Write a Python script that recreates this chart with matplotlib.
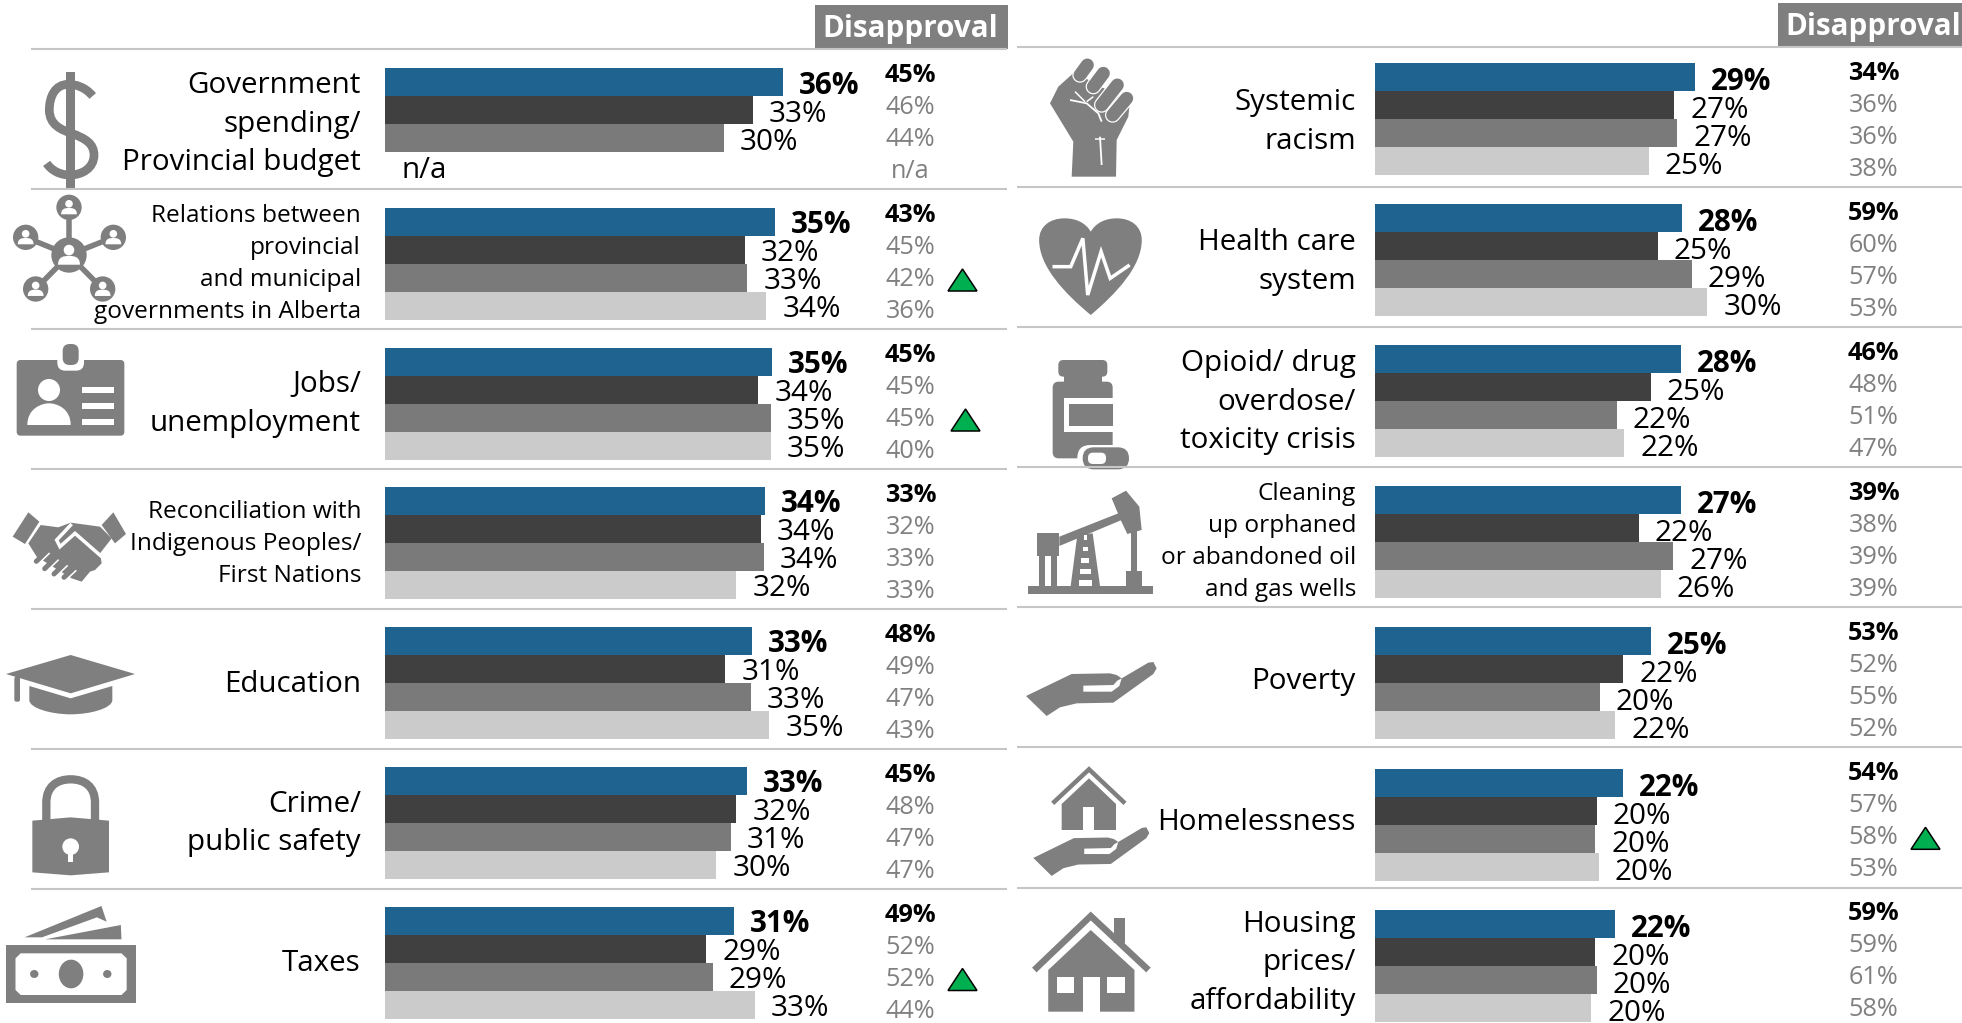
import matplotlib
matplotlib.use('Agg')
import matplotlib.pyplot as plt
from matplotlib.patches import Polygon, Ellipse, FancyBboxPatch, PathPatch, Rectangle
from matplotlib.path import Path

plt.rcParams['font.family'] = ['Open Sans', 'DejaVu Sans']

W, H = 1962, 1023
PX_PER_PCT = 11.08

# data, four bars per topic, top to bottom
left_topics = [
    ['Government', 'spending/', 'Provincial budget'],
    ['Relations between', 'provincial', 'and municipal', 'governments in Alberta'],
    ['Jobs/', 'unemployment'],
    ['Reconciliation with', 'Indigenous Peoples/', 'First Nations'],
    ['Education'],
    ['Crime/', 'public safety'],
    ['Taxes'],
]
left_bars = [
    [35.9, 33.2, 30.6, None],
    [35.2, 32.5, 32.7, 34.4],
    [34.9, 33.7, 34.8, 34.8],
    [34.3, 33.9, 34.2, 31.7],
    [33.1, 30.7, 33.0, 34.7],
    [32.7, 31.7, 31.2, 29.9],
    [31.5, 29.0, 29.6, 33.4],
]
left_labels = [
    ['36%', '33%', '30%', 'n/a'],
    ['35%', '32%', '33%', '34%'],
    ['35%', '34%', '35%', '35%'],
    ['34%', '34%', '34%', '32%'],
    ['33%', '31%', '33%', '35%'],
    ['33%', '32%', '31%', '30%'],
    ['31%', '29%', '29%', '33%'],
]
left_disapproval = [
    ['45%', '46%', '44%', 'n/a'],
    ['43%', '45%', '42%', '36%'],
    ['45%', '45%', '45%', '40%'],
    ['33%', '32%', '33%', '33%'],
    ['48%', '49%', '47%', '43%'],
    ['45%', '48%', '47%', '47%'],
    ['49%', '52%', '52%', '44%'],
]
right_topics = [
    ['Systemic', 'racism'],
    ['Health care', 'system'],
    ['Opioid/ drug', 'overdose/', 'toxicity crisis'],
    ['Cleaning', 'up orphaned', 'or abandoned oil', 'and gas wells'],
    ['Poverty'],
    ['Homelessness'],
    ['Housing', 'prices/', 'affordability'],
]
right_bars = [
    [28.9, 27.0, 27.3, 24.7],
    [27.7, 25.5, 28.6, 30.0],
    [27.6, 24.9, 21.8, 22.5],
    [27.6, 23.8, 26.9, 25.8],
    [24.9, 22.4, 20.3, 21.7],
    [22.4, 20.0, 19.9, 20.2],
    [21.7, 19.9, 20.0, 19.5],
]
right_labels = [
    ['29%', '27%', '27%', '25%'],
    ['28%', '25%', '29%', '30%'],
    ['28%', '25%', '22%', '22%'],
    ['27%', '22%', '27%', '26%'],
    ['25%', '22%', '20%', '22%'],
    ['22%', '20%', '20%', '20%'],
    ['22%', '20%', '20%', '20%'],
]
right_disapproval = [
    ['34%', '36%', '36%', '38%'],
    ['59%', '60%', '57%', '53%'],
    ['46%', '48%', '51%', '47%'],
    ['39%', '38%', '39%', '39%'],
    ['53%', '52%', '55%', '52%'],
    ['54%', '57%', '58%', '53%'],
    ['59%', '59%', '61%', '58%'],
]
# (topic row, wave) of the green up arrows
left_arrows = [(1, 2), (2, 2), (6, 2)]
right_arrows = [(5, 2)]

bar_colors = ['#1f6391', '#404040', '#7a7a7a', '#cbcbcb']
GR = '#7f7f7f'
SMALL = 17.6
BIG = 21.3

fig = plt.figure(figsize=(W / 100, H / 100), dpi=100, facecolor='white')
base = fig.add_axes([0, 0, 1, 1])
base.set_xlim(0, W)
base.set_ylim(H, 0)
base.axis('off')


# icon helpers, points are given in crop coordinates and mapped by ic=(ox, oy, sx, sy)
def tf(pts, ic):
    return [(ic[0] + x / ic[2], ic[1] + y / ic[3]) for x, y in pts]


def poly(pts, ic, color=GR):
    base.add_patch(Polygon(tf(pts, ic), closed=True, fc=color, ec='none'))


def rect(x0, y0, x1, y1, ic, color=GR, r=0):
    (a, b), (c, d) = tf([(x0, y0), (x1, y1)], ic)
    if r:
        base.add_patch(FancyBboxPatch((a, b), c - a, d - b, boxstyle=f'round,pad=0,rounding_size={r}',
                                      fc=color, ec='none'))
    else:
        base.add_patch(Rectangle((a, b), c - a, d - b, fc=color, ec='none'))


def circ(x, y, r, ic, color=GR, r2=None):
    (a, b), = tf([(x, y)], ic)
    base.add_patch(Ellipse((a, b), 2 * r / ic[2], 2 * (r2 or r) / ic[3], fc=color, ec='none'))


def stroke(pts, ic, width, color=GR, cap='butt'):
    path = Path(tf(pts, ic))
    base.add_patch(PathPatch(path, fc='none', ec=color, lw=width * 0.72, capstyle=cap, joinstyle='miter'))


def bezier(start, segs, ic, width=None, color=GR):
    verts = [start]
    codes = [Path.MOVETO]
    for s in segs:
        verts += s
        codes += [Path.LINETO] if len(s) == 1 else [Path.CURVE4] * 3
    path = Path(tf(verts, ic), codes)
    if width:
        base.add_patch(PathPatch(path, fc='none', ec=color, lw=width * 0.72, capstyle='butt'))
    else:
        base.add_patch(PathPatch(path, fc=color, ec='none'))


def person(cx, cy, r, ic):
    circ(cx, cy - 0.28 * r, 0.3 * r, ic, 'white')
    bezier((cx - 0.62 * r, cy + 0.55 * r),
           [[(cx - 0.62 * r, cy + 0.1 * r), (cx - 0.3 * r, cy + 0.05 * r), (cx, cy + 0.05 * r)],
            [(cx + 0.3 * r, cy + 0.05 * r), (cx + 0.62 * r, cy + 0.1 * r), (cx + 0.62 * r, cy + 0.55 * r)]], ic,
           color='white')


def hand(ic):
    poly([(18, 138), (155, 72), (270, 70), (290, 75), (305, 85), (385, 38), (400, 36), (410, 55), (400, 72),
          (280, 158), (170, 160), (120, 172), (80, 198)], ic)
    poly([(190, 107), (280, 105), (292, 92), (305, 85), (298, 108), (275, 125), (190, 125)], ic, 'white')


Z2 = (1010, 0, 1.647, 3)
Z3 = (0, 680, 1.5475, 3)
Z4 = (1010, 680, 1.647, 3)
Z5 = (0, 50, 3, 3)
Z6 = (0, 330, 3, 3)
Z7 = (0, 610, 3, 3)
Z8 = (1020, 330, 3, 3)
Z9 = (1030, 50, 3, 3)
Z10 = (1020, 650, 3, 3)

# dollar
rect(198, 67, 224, 418, Z5)
bezier((278, 138), [[(255, 110), (225, 103), (205, 103)], [(165, 103), (148, 140), (148, 180)],
                    [(148, 225), (185, 240), (215, 250)], [(255, 265), (282, 280), (282, 315)],
                    [(282, 355), (245, 375), (210, 375)], [(180, 375), (155, 362), (140, 340)]], Z5, width=8.7)

# network
nodes = [(207, 472), (77, 562), (340, 562), (107, 717), (308, 717)]
for n in nodes:
    stroke([(207, 615), n], Z5, 5.5)
circ(207, 615, 53, Z5)
person(207, 615, 53, Z5)
for n in nodes:
    circ(n[0], n[1], 38, Z5)
    person(n[0], n[1], 38, Z5)

# badge
rect(50, 90, 373, 317, Z6, r=4)
rect(172, 60, 252, 122, Z6, 'white', r=8)
rect(188, 42, 236, 105, Z6, r=7)
circ(147, 180, 33, Z6, 'white')
bezier((82, 285), [[(82, 235), (125, 220), (147, 220)], [(170, 220), (212, 235), (212, 285)]], Z6, color='white')
for y0, y1 in [(172, 188), (220, 237), (268, 285)]:
    rect(245, y0, 341, y1, Z6, 'white')

# handshake
poly([(85, 547), (118, 575), (75, 642), (38, 620)], Z6)
poly([(340, 547), (378, 612), (345, 640), (305, 585)], Z6)
poly([(122, 585), (175, 592), (212, 578), (300, 590), (335, 625), (300, 670), (305, 700), (285, 720),
      (270, 725), (245, 755), (215, 745), (110, 680), (85, 640)], Z6)
stroke([(215, 582), (170, 630), (180, 650), (225, 610), (305, 680)], Z6, 3.5, 'white')
for a, b in [((115, 700), (148, 668)), ((140, 722), (175, 688)), ((168, 738), (202, 705)), ((198, 748), (228, 720))]:
    stroke([a, b], Z6, 2.5, 'white')
    stroke([(a[0] - 6, a[1] - 6), (b[0] - 6, b[1] - 6)], Z6, 5, GR, cap='round')

# graduation cap
bezier((88, 228), [[(212, 265)], [(337, 228)], [(337, 270)], [(337, 295), (270, 313), (212, 313)],
                   [(155, 313), (88, 295), (88, 270)]], Z7)
poly([(18, 192), (212, 135), (405, 192), (212, 250)], Z7)
rect(43, 200, 60, 275, Z7, r=2)

# lock
bezier((139, 632), [[(139, 578)], [(139, 530), (170, 508), (212, 508)], [(254, 508), (285, 530), (285, 578)],
                    [(285, 632)]], Z7, width=8.3)
poly([(97, 632), (212, 622), (327, 632), (327, 787), (212, 796), (97, 787)], Z7)
circ(212, 710, 25, Z7, 'white')
rect(204, 715, 220, 755, Z7, 'white')

# banknotes
poly([(38, 772), (157, 678), (165, 725), (150, 712), (65, 772)], Z3)
poly([(70, 778), (187, 735), (188, 778)], Z3)
rect(10, 795, 210, 970, Z3)
poly([(32, 820), (188, 820), (196, 835), (196, 930), (188, 945), (32, 945), (24, 930), (24, 835)], Z3, 'white')
circ(110, 882, 19, Z3, r2=43)
circ(53, 882, 6.5, Z3, r2=12)
circ(166, 882, 6.5, Z3, r2=12)

# fist
poly([(125, 380), (130, 275), (60, 160), (85, 110), (135, 65), (200, 105), (300, 150), (295, 200), (260, 270),
      (258, 380)], Z9)
for a, b in [((172, 45), (150, 75)), ((220, 70), (190, 110)), ((262, 105), (215, 165)), ((290, 145), (248, 195))]:
    stroke([a, b], Z9, 15.5, 'white', cap='round')
    stroke([a, b], Z9, 13, GR, cap='round')
stroke([(120, 150), (170, 160), (205, 190), (215, 215)], Z9, 1.8, 'white')
stroke([(135, 125), (165, 155)], Z9, 1.5, 'white')
stroke([(190, 140), (170, 155)], Z9, 1.5, 'white')
stroke([(210, 260), (215, 345)], Z9, 1.8, 'white')
stroke([(195, 268), (225, 268)], Z9, 1.5, 'white')

# heart
bezier((133, 945), [[(90, 880), (48, 800), (48, 720)], [(48, 680), (65, 655), (90, 655)],
                    [(110, 655), (125, 670), (133, 695)], [(141, 670), (156, 655), (176, 655)],
                    [(200, 655), (217, 680), (217, 720)], [(217, 800), (175, 880), (133, 945)]], Z2)
stroke([(70, 800), (100, 800), (120, 715), (128, 885), (150, 755), (165, 835), (197, 795)], Z2, 3.5, 'white')

# bottle
rect(115, 90, 262, 140, Z8, r=5)
rect(132, 135, 247, 160, Z8)
rect(98, 155, 278, 385, Z8, r=6)
rect(132, 205, 278, 305, Z8, 'white')
rect(148, 222, 278, 288, Z8)
rect(172, 345, 335, 425, Z8, 'white', r=13)
rect(188, 352, 327, 418, Z8, r=11)
rect(204, 368, 258, 402, Z8, 'white', r=5)

# pumpjack
rect(25, 768, 400, 793, Z8)
rect(50, 610, 118, 678, Z8)
rect(58, 678, 75, 770, Z8)
rect(93, 678, 110, 770, Z8)
poly([(118, 620), (300, 548), (305, 570), (118, 648)], Z8)
poly([(275, 505), (318, 482), (358, 530), (365, 600), (322, 612), (302, 570)], Z8)
poly([(152, 768), (172, 615), (218, 610), (240, 768)], Z8)
for y0, y1, x0, x1 in [(615, 630, 192, 200), (650, 662, 188, 204), (684, 698, 184, 208), (718, 732, 180, 212),
                       (750, 768, 176, 216)]:
    rect(x0, y0, x1, y1, Z8, 'white')
rect(333, 600, 350, 722, Z8)
rect(317, 722, 366, 768, Z8)

# poverty hand
hand(Z10)

# homelessness
stroke([(98, 460), (207, 358), (315, 460)], Z10, 4.5)
poly([(125, 540), (125, 462), (207, 385), (288, 462), (288, 540)], Z10)
rect(190, 472, 222, 540, Z10, 'white')
hand((1028, 816.5, 3.38, 3.33))

# housing
rect(172, 715, 190, 790, Z4)
stroke([(40, 870), (133, 708), (228, 870)], Z4, 6.5)
poly([(63, 995), (63, 870), (133, 750), (205, 870), (205, 995)], Z4)
rect(77, 890, 105, 940, Z4, 'white')
rect(160, 890, 190, 940, Z4, 'white')
rect(120, 890, 148, 995, Z4, 'white')


def panel(topics, bars, labels, disapproval, arrows, x0, x_lab, x_dis, tops, rules, rule_x, dy_lab):
    ax = fig.add_axes([x0 / W, 0, 500 / W, 1])
    ax.set_xlim(0, 500 / PX_PER_PCT)
    ax.set_ylim(H, 0)
    ax.axis('off')
    ax.patch.set_alpha(0)
    for i in range(7):
        base.plot(rule_x, [rules[i], rules[i]], color='#c6c6c6', lw=1.5, solid_capstyle='butt')
        for j in range(4):
            y = tops[i] + 28 * j + 14
            v = bars[i][j]
            weight = 'bold' if j == 0 else 'normal'
            if v is None:
                ax.text(16 / PX_PER_PCT, y + 2 + 10, labels[i][j], fontsize=BIG, ha='left', va='baseline',
                        color='black')
            else:
                ax.barh(y, v, height=28, color=bar_colors[j], lw=0)
                ax.text(v + 16 / PX_PER_PCT, y + dy_lab + 10, labels[i][j], fontsize=BIG, fontweight=weight,
                        ha='left', va='baseline', color='black')
            yd = rules[i] + 24 + 32 * j
            base.text(x_dis, yd + 9, disapproval[i][j], fontsize=18.2, ha='center', va='baseline',
                      fontweight='bold' if j == 0 else 'normal', color='black' if j == 0 else '#808080')
            if (i, j) in arrows:
                xa = x_dis + 52 if i != 2 else x_dis + 55
                base.add_patch(Polygon([(xa - 14.5, yd + 14), (xa, yd - 8), (xa + 14.5, yd + 14)], closed=True,
                                       fc='#00b050', ec='black', lw=1.1))
        lines = topics[i]
        small = len(lines) > 3 or lines[0].startswith(('Relations', 'Reconciliation'))
        pitch = 32 if small else 38.5
        for k, line in enumerate(lines):
            yc = rules[i] + 72.7 + (k - (len(lines) - 1) / 2) * pitch
            base.text(x_lab, yc + (8.5 if small else 10), line, fontsize=SMALL if small else BIG, ha='right',
                      va='baseline', color='black')
    # header box
    base.add_patch(Rectangle((x_dis - 96, rules[0] - 44), 193, 44, fc=GR, ec='none'))
    base.text(x_dis, rules[0] - 12, 'Disapproval', fontsize=21.3, fontweight='bold', color='white',
              ha='center', va='baseline')


panel(left_topics, left_bars, left_labels, left_disapproval, left_arrows, 385, 361, 910.5,
      [68, 207.5, 347.5, 487, 627, 766.5, 906.5], [49, 189, 329, 469, 609, 748.5, 888.5], [31, 1007], 1.5)
panel(right_topics, right_bars, right_labels, right_disapproval, right_arrows, 1375, 1356, 1873.5,
      [62.5, 204, 345, 486, 627.3, 769, 910], [46.7, 186.7, 327, 466.7, 606.7, 747.3, 887.5], [1017, 1962], 3)

fig.savefig('out.png', dpi=100, facecolor='white')
